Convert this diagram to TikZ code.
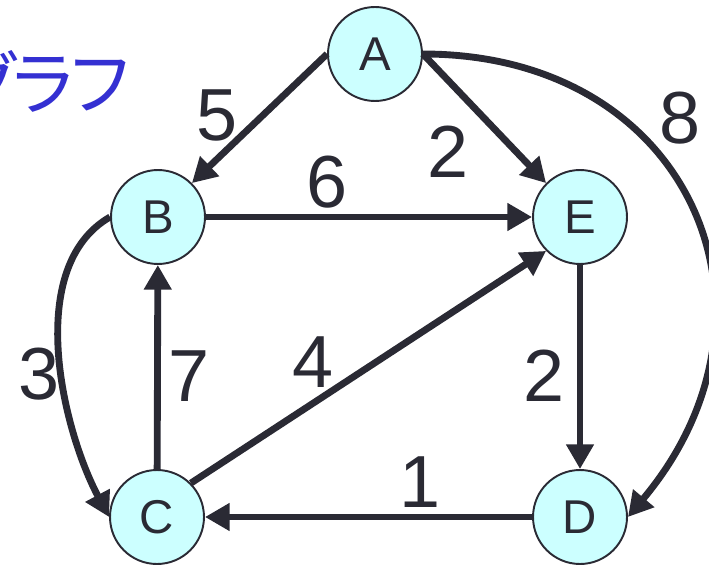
\documentclass[tikz,border=0pt]{standalone}
\usepackage{fontspec}
\setmainfont{Liberation Sans}
\newfontfamily\jpfont[RawFeature=+palt, LetterSpace=-4]{Noto Sans CJK JP}
\usetikzlibrary{arrows.meta}
\definecolor{vtxfill}{RGB}{204,255,255}
\definecolor{edgecol}{RGB}{42,42,52}
\definecolor{titleblue}{RGB}{52,48,210}

\begin{document}
\begin{tikzpicture}[x=0.02cm, y=0.02cm,
    vertex/.style={circle, draw=edgecol, fill=vtxfill, line width=1.1pt,
      minimum size=1.88cm, inner sep=0pt, text=edgecol,
      font=\fontsize{27}{30}\selectfont},
    arc/.style={draw=edgecol, line width=3.9pt,
      -{Triangle[length=14pt,width=15pt]}},
    weight/.style={inner sep=0pt, text=edgecol,
      font=\fontsize{42}{46}\selectfont}]
          \useasboundingbox (0,0) rectangle (709,565);

          \node[anchor=east, inner sep=0pt, text=titleblue,
            font=\jpfont\fontsize{40}{44}\selectfont] (title) at (130,483) {グラフ};

          \node[vertex] (A) at (375,511) {A};
          \node[vertex] (B) at (158,348) {B};
          \node[vertex] (E) at (580,348) {E};
          \node[vertex] (C) at (157,48) {C};
          \node[vertex] (D) at (580,48) {D};

          \draw[arc] (A.west) -- (B.north east);
          \draw[arc] (A.east) -- (E.north west);
          \draw[arc] (A.east) to[out=0, in=50, looseness=1.35] (D.east);
          \draw[arc] (B) -- (E);
          \draw[arc] (B.west) to[out=210, in=118, looseness=0.85] (C.west);
          \draw[arc] (C) -- (B);
          \draw[arc] (C.north east) -- (E.south west);
          \draw[arc] (E) -- (D);
          \draw[arc] (D) -- (C);

          \node[weight] (w5) at (217,450) {5};
          \node[weight] (w2a) at (448,413) {2};
          \node[weight] (w8) at (680,447) {8};
          \node[weight] (w6) at (327,383) {6};
          \node[weight] (w3) at (39,191) {3};
          \node[weight] (w7) at (189,189) {7};
          \node[weight] (w4) at (313,203) {4};
          \node[weight] (w2b) at (544,189) {2};
          \node[weight] (w1) at (420,83) {1};

        \end{tikzpicture}
\end{document}
